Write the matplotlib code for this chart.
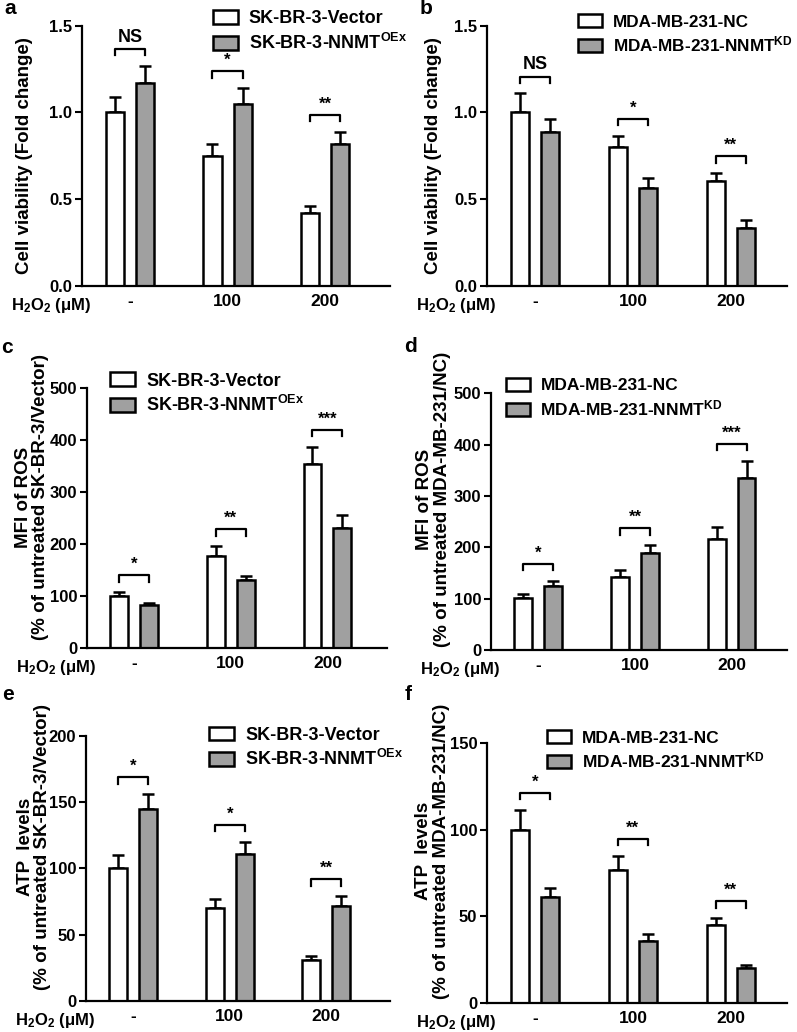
import numpy as np
import matplotlib
matplotlib.use("Agg")
import matplotlib.pyplot as plt
from matplotlib.patches import Patch

plt.rcParams['font.family'] = ['Liberation Sans', 'DejaVu Sans']
plt.rcParams['font.weight'] = 'bold'
plt.rcParams['axes.labelweight'] = 'bold'
plt.rcParams['mathtext.fontset'] = 'custom'
plt.rcParams['mathtext.rm'] = 'Liberation Sans:bold'
plt.rcParams['mathtext.bf'] = 'Liberation Sans:bold'
plt.rcParams['mathtext.default'] = 'rm'

# data
doses = ['-', '100', '200']

# a: cell viability, SK-BR-3
a_vec = [1.00, 0.75, 0.42]
a_vec_err = [0.09, 0.07, 0.04]
a_oex = [1.17, 1.05, 0.82]
a_oex_err = [0.10, 0.09, 0.07]
a_sig = ['NS', '*', '**']

# b: cell viability, MDA-MB-231
b_nc = [1.00, 0.80, 0.605]
b_nc_err = [0.11, 0.065, 0.046]
b_kd = [0.886, 0.565, 0.335]
b_kd_err = [0.077, 0.055, 0.047]
b_sig = ['NS', '*', '**']

# c: ROS, SK-BR-3
c_vec = [100, 178, 354]
c_vec_err = [8, 18, 33]
c_oex = [82, 130, 231]
c_oex_err = [5, 9, 25]
c_sig = ['*', '**', '***']

# d: ROS, MDA-MB-231
d_nc = [101, 142, 216]
d_nc_err = [8, 14, 24]
d_kd = [124, 190, 335]
d_kd_err = [11, 15, 34]
d_sig = ['*', '**', '***']

# e: ATP, SK-BR-3
e_vec = [100, 70, 31]
e_vec_err = [10, 7, 3]
e_oex = [145, 111, 72]
e_oex_err = [11, 9, 7]
e_sig = ['*', '*', '**']

# f: ATP, MDA-MB-231
f_nc = [100, 77, 45]
f_nc_err = [11.5, 8, 4]
f_kd = [61, 36, 20]
f_kd_err = [5.5, 4, 2]
f_sig = ['*', '**', '**']

lab_sk = ['SK-BR-3-Vector', 'SK-BR-3-NNMT$^{OEx}$']
lab_mda = ['MDA-MB-231-NC', 'MDA-MB-231-NNMT$^{KD}$']

GRAY = '#a0a0a0'
W = 0.185
OFF = 0.155

fig = plt.figure(figsize=(7.97, 10.32), dpi=100)


def panel(rect, letter, lpos, v1, e1, v2, e2, sig, labels, ylim, yticks, yfmt,
          ylabel, lab_xy, leg_xy, xright, legsize=13):
    ax = fig.add_axes(rect)
    x = np.arange(len(doses))
    ax.bar(x - OFF, v1, W, color='white', edgecolor='black', linewidth=1.8, zorder=2)
    ax.bar(x + OFF, v2, W, color=GRAY, edgecolor='black', linewidth=1.8, zorder=2)
    for xs, v, e in [(x - OFF, v1, e1), (x + OFF, v2, e2)]:
        ax.errorbar(xs, v, yerr=[np.zeros(len(e)), e], fmt='none', ecolor='black',
                    elinewidth=1.8, capsize=4.5, capthick=1.8, zorder=1)
    top = ylim[1]
    for i in range(len(doses)):
        h = max(v1[i] + e1[i], v2[i] + e2[i]) + 0.065 * top
        leg = 0.025 * top
        ax.plot([i - OFF, i - OFF, i + OFF, i + OFF], [h - leg, h, h, h - leg],
                color='black', lw=1.6, clip_on=False)
        ax.text(i, h + 0.012 * top, sig[i], ha='center', va='bottom',
                fontsize=13 if sig[i] == 'NS' else 12, fontweight='bold')
    ax.set_xlim(-0.49, xright)
    ax.set_ylim(*ylim)
    ax.set_yticks(yticks)
    ax.set_yticklabels([yfmt.format(t) for t in yticks])
    ax.set_xticks(x)
    ax.set_xticklabels(doses)
    ax.tick_params(axis='x', length=0, pad=6, labelsize=12.5)
    ax.tick_params(axis='y', length=5, width=1.5, pad=2, labelsize=12)
    for s in ['top', 'right']:
        ax.spines[s].set_visible(False)
    for s in ['left', 'bottom']:
        ax.spines[s].set_linewidth(1.6)
    ax.set_ylabel(ylabel, fontsize=13.5, linespacing=1.05)
    ax.yaxis.set_label_coords(*lab_xy)
    ax.text(0.03, -0.075, 'H$_2$O$_2$ (μM)', transform=ax.transAxes,
            ha='right', va='center', fontsize=12, fontweight='bold')
    handles = [Patch(facecolor='white', edgecolor='black', linewidth=1.8),
               Patch(facecolor=GRAY, edgecolor='black', linewidth=1.8)]
    ax.legend(handles, labels, loc='upper left', bbox_to_anchor=leg_xy,
              frameon=False, fontsize=legsize, handlelength=1.4, handleheight=0.8,
              handletextpad=0.6, labelspacing=0.3, borderpad=0, borderaxespad=0)
    fig.text(lpos[0], lpos[1], letter, fontsize=15, fontweight='bold',
             ha='left', va='center')
    return ax


panel([0.103, 0.723, 0.386, 0.252], 'a', (0.006, 0.992),
      a_vec, a_vec_err, a_oex, a_oex_err, a_sig, lab_sk,
      (0, 1.5), [0, 0.5, 1.0, 1.5], '{:.1f}',
      'Cell viability (Fold change)', (-0.16, 0.5), (0.425, 1.06), 2.66)

panel([0.611, 0.723, 0.376, 0.252], 'b', (0.527, 0.992),
      b_nc, b_nc_err, b_kd, b_kd_err, b_sig, lab_mda,
      (0, 1.5), [0, 0.5, 1.0, 1.5], '{:.1f}',
      'Cell viability (Fold change)', (-0.15, 0.5), (0.305, 1.045), 2.57,
      legsize=12.3)

panel([0.109, 0.372, 0.377, 0.252], 'c', (0.001, 0.663),
      c_vec, c_vec_err, c_oex, c_oex_err, c_sig, lab_sk,
      (0, 500), [0, 100, 200, 300, 400, 500], '{:d}',
      'MFI of ROS\n(% of untreated SK-BR-3/Vector)', (-0.125, 0.58),
      (0.077, 1.06), 2.62)

panel([0.616, 0.370, 0.371, 0.249], 'd', (0.507, 0.664),
      d_nc, d_nc_err, d_kd, d_kd_err, d_sig, lab_mda,
      (0, 500), [0, 100, 200, 300, 400, 500], '{:d}',
      'MFI of ROS\n(% of untreated MDA-MB-231/NC)', (-0.135, 0.585),
      (0.05, 1.06), 2.57, legsize=12.5)

panel([0.108, 0.030, 0.381, 0.257], 'e', (0.003, 0.327),
      e_vec, e_vec_err, e_oex, e_oex_err, e_sig, lab_sk,
      (0, 200), [0, 50, 100, 150, 200], '{:d}',
      'ATP  levels\n(% of untreated SK-BR-3/Vector)', (-0.115, 0.58),
      (0.405, 1.035), 2.66)

panel([0.611, 0.028, 0.376, 0.252], 'f', (0.508, 0.327),
      f_nc, f_nc_err, f_kd, f_kd_err, f_sig, lab_mda,
      (0, 150), [0, 50, 100, 150], '{:d}',
      'ATP  levels\n(% of untreated MDA-MB-231/NC)', (-0.125, 0.585),
      (0.2, 1.05), 2.57, legsize=12.5)

fig.savefig('out.png', dpi=100)
